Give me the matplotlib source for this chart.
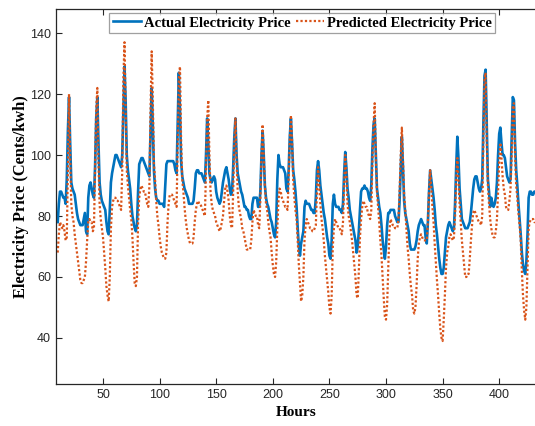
import matplotlib
matplotlib.use('Agg')
import matplotlib.pyplot as plt
import numpy as np

# hourly prices, starting at hour 10
hours = np.arange(10, 433)

actual_price = [
    78, 84, 88, 88, 87, 86, 86, 84, 92, 108,
    119, 104, 91, 89, 88, 87, 84, 81, 79, 78,
    77, 77, 77, 79, 81, 75, 74, 86, 90, 91,
    89, 87, 86, 96, 112, 119, 104, 91, 87, 85,
    84, 83, 82, 78, 75, 74, 82, 91, 94, 96,
    98, 100, 100, 99, 98, 97, 96, 100, 115, 129,
    118, 100, 95, 92, 89, 84, 80, 78, 76, 75,
    77, 88, 97, 98, 99, 99, 98, 97, 96, 95,
    94, 93, 108, 122, 110, 95, 89, 86, 85, 85,
    84, 84, 84, 84, 83, 90, 97, 98, 98, 98,
    98, 98, 98, 97, 95, 94, 110, 127, 115, 98,
    93, 91, 89, 88, 87, 86, 84, 84, 84, 84,
    85, 89, 94, 95, 95, 94, 94, 94, 93, 92,
    91, 100, 112, 104, 94, 92, 91, 92, 93, 92,
    88, 86, 85, 84, 85, 88, 91, 93, 95, 96,
    94, 92, 89, 87, 88, 96, 106, 112, 100, 94,
    92, 90, 88, 87, 85, 83, 83, 82, 82, 80,
    79, 79, 84, 86, 86, 86, 86, 83, 83, 88,
    100, 108, 100, 90, 86, 84, 83, 81, 79, 78,
    76, 74, 73, 78, 92, 100, 97, 96, 96, 96,
    95, 94, 89, 88, 95, 106, 112, 104, 95, 92,
    88, 83, 76, 70, 67, 71, 73, 75, 83, 85,
    84, 84, 84, 83, 82, 82, 81, 81, 86, 95,
    98, 95, 90, 87, 84, 81, 79, 76, 73, 71,
    67, 66, 72, 84, 87, 84, 83, 83, 83, 82,
    82, 81, 84, 94, 101, 96, 89, 86, 82, 80,
    78, 76, 74, 72, 68, 70, 75, 82, 88, 89,
    89, 90, 89, 89, 88, 86, 85, 90, 102, 110,
    112, 100, 89, 86, 83, 81, 77, 72, 69, 66,
    70, 77, 81, 81, 82, 82, 82, 82, 80, 79,
    78, 78, 85, 96, 106, 96, 85, 81, 79, 77,
    75, 71, 69, 69, 69, 69, 70, 72, 75, 77,
    78, 79, 78, 77, 77, 73, 71, 78, 88, 95,
    92, 89, 86, 82, 77, 74, 70, 66, 63, 61,
    61, 63, 68, 73, 75, 77, 78, 77, 76, 75,
    76, 84, 96, 106, 99, 89, 84, 79, 78, 77,
    76, 76, 76, 77, 78, 81, 85, 89, 92, 93,
    93, 91, 89, 88, 89, 92, 110, 126, 128, 110,
    92, 88, 83, 86, 84, 83, 84, 86, 91, 100,
    107, 109, 104, 100, 100, 99, 96, 93, 92, 91,
    92, 105, 119, 118, 104, 95, 90, 84, 79, 74,
    68, 64, 62, 61, 65, 74, 86, 88, 88, 87,
    87, 88, 88,
]

predicted_price = [
    68, 74, 78, 77, 76, 77, 75, 72, 73, 95,
    120, 100, 84, 80, 78, 74, 71, 68, 65, 62,
    59, 58, 58, 59, 60, 65, 72, 78, 79, 78,
    78, 75, 76, 95, 115, 122, 98, 84, 79, 76,
    73, 68, 63, 57, 54, 52, 60, 76, 83, 85,
    86, 86, 85, 85, 84, 83, 82, 95, 125, 137,
    115, 95, 90, 86, 82, 79, 73, 65, 58, 57,
    60, 78, 86, 89, 90, 89, 88, 88, 86, 84,
    83, 90, 115, 134, 118, 97, 92, 85, 80, 77,
    73, 70, 68, 67, 66, 66, 68, 78, 84, 87,
    87, 87, 86, 85, 84, 83, 105, 125, 129, 105,
    92, 88, 83, 79, 76, 74, 72, 71, 71, 71,
    73, 78, 82, 84, 85, 84, 84, 83, 82, 81,
    80, 95, 112, 118, 100, 88, 84, 82, 81, 80,
    78, 77, 76, 75, 76, 78, 80, 85, 89, 90,
    88, 85, 80, 77, 76, 88, 104, 112, 98, 88,
    83, 81, 79, 76, 75, 73, 71, 69, 69, 69,
    69, 72, 78, 82, 81, 80, 80, 77, 76, 85,
    100, 110, 100, 90, 84, 82, 78, 75, 73, 68,
    64, 61, 60, 65, 76, 85, 89, 88, 86, 85,
    84, 83, 83, 82, 92, 105, 113, 105, 92, 86,
    82, 79, 72, 64, 58, 52, 54, 60, 72, 77,
    79, 78, 77, 76, 76, 75, 75, 76, 77, 88,
    96, 90, 84, 79, 76, 72, 67, 63, 59, 55,
    50, 48, 54, 70, 76, 79, 78, 77, 76, 76,
    75, 74, 78, 90, 100, 94, 84, 80, 78, 75,
    72, 68, 64, 60, 54, 53, 62, 73, 79, 83,
    85, 84, 83, 83, 81, 80, 79, 82, 98, 110,
    117, 100, 88, 83, 78, 72, 67, 60, 53, 47,
    46, 51, 63, 75, 79, 78, 77, 77, 76, 76,
    76, 79, 88, 100, 109, 98, 87, 82, 76, 70,
    66, 61, 57, 54, 49, 48, 50, 57, 66, 71,
    73, 74, 73, 72, 72, 72, 72, 78, 88, 95,
    89, 83, 78, 71, 65, 59, 54, 48, 43, 40,
    39, 46, 54, 63, 68, 70, 73, 74, 73, 72,
    73, 80, 92, 99, 92, 84, 78, 72, 68, 64,
    60, 60, 61, 61, 66, 72, 77, 81, 82, 81,
    80, 79, 78, 78, 77, 80, 105, 125, 127, 105,
    90, 84, 79, 76, 74, 73, 73, 75, 79, 88,
    98, 104, 99, 93, 89, 87, 83, 82, 82, 85,
    89, 100, 116, 117, 100, 90, 86, 81, 77, 72,
    62, 54, 49, 46, 50, 63, 76, 78, 79, 79,
    79, 78, 78,
]

fig = plt.figure(figsize=(5.35, 4.26), dpi=100)
ax = fig.add_axes([0.1047, 0.0986, 0.8995, 0.8803])

ax.plot(hours, actual_price, color='#0072BD', lw=1.9, label='Actual Electricity Price')
ax.plot(hours, predicted_price, color='#D95319', lw=1.6, ls=(0, (1, 1)),
        label='Predicted Electricity Price')

ax.set_xlim(8.5, 433.6)
ax.set_ylim(24.9, 147.9)
ax.set_xticks([50, 100, 150, 200, 250, 300, 350, 400])
ax.set_yticks([40, 60, 80, 100, 120, 140])
ax.tick_params(direction='in', top=True, right=False, labelsize=9,
               length=4, width=0.8, colors='#262626')
for lbl in ax.get_xticklabels() + ax.get_yticklabels():
    lbl.set_family('Liberation Sans')
for s in ax.spines.values():
    s.set_color('#262626')
    s.set_linewidth(0.9)

ax.set_xlabel('Hours', labelpad=4, family='Liberation Serif', weight='bold', size=11)
ax.set_ylabel('Electricity Price (Cents/kwh)', labelpad=1,
              family='Liberation Serif', weight='bold', size=11.8)

leg = ax.legend(loc='upper center', bbox_to_anchor=(0.512, 0.99), ncol=2,
                prop=dict(family='Liberation Serif', weight='bold', size=10.5),
                frameon=True, fancybox=False, edgecolor='#888888',
                handlelength=1.9, handletextpad=0.2, columnspacing=0.4,
                borderpad=0.25, borderaxespad=0)
leg.get_frame().set_linewidth(0.9)

fig.savefig('out.png', dpi=100)
